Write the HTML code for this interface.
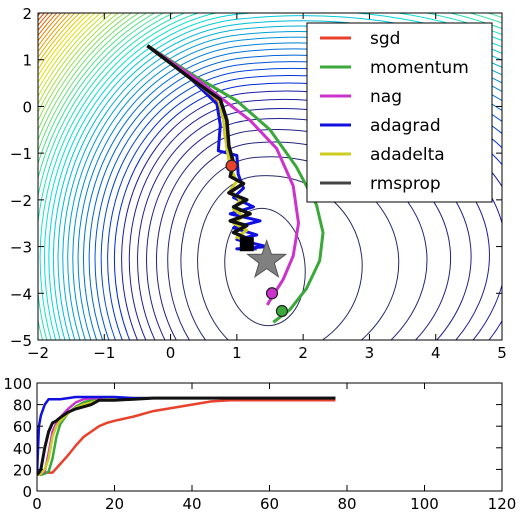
<!DOCTYPE html>
<html><head><meta charset="utf-8"><style>
html,body{margin:0;padding:0;background:#fff;overflow:hidden;width:520px;height:516px;}
svg{display:block;font-family:"DejaVu Sans","Liberation Sans",sans-serif;overflow:hidden;}
</style></head><body>
<svg id="fig" width="520" height="516" xmlns="http://www.w3.org/2000/svg">
<defs>
<clipPath id="topclip"><rect x="38" y="13" width="464" height="327"/></clipPath>
<clipPath id="botclip"><rect x="37" y="383" width="465" height="108"/></clipPath>
</defs>
<g id="contours" clip-path="url(#topclip)"></g>
<g id="paths" clip-path="url(#topclip)"></g>
<rect x="38" y="13" width="464" height="327" fill="none" stroke="#000" stroke-width="1"/>
<g id="topticks"></g>
<g id="legend"></g>
<g id="bot" clip-path="url(#botclip)"></g>
<rect x="37" y="383" width="465" height="108" fill="none" stroke="#000" stroke-width="1"/>
<g id="botticks"></g>
</svg>
<script>
const NS="http://www.w3.org/2000/svg";
// ---- data ----
const seriesNames=["sgd","momentum","nag","adagrad","adadelta","rmsprop"];
const seriesColors=["#e8412c","#3aa83a","#cc33cc","#1010e0","#cccc22","#444444"];
const topXTicks=[-2,-1,0,1,2,3,4,5];
const topYTicks=[2,1,0,-1,-2,-3,-4,-5];
const sgdPath=[[-0.35,1.3],[0.3,0.6],[0.7,0.15],[0.8,-0.2],[0.82,-0.6],[0.87,-0.95],[0.92,-1.25]];
const momentumPath=[[-0.35,1.3],[0.4,0.62],[1.0,0.12],[1.5,-0.5],[1.9,-1.3],[2.2,-2.1],[2.3,-2.7],[2.25,-3.3],[2.05,-3.9],[1.8,-4.35],[1.55,-4.62]];
const nagPath=[[-0.35,1.3],[0.4,0.58],[1.2,-0.3],[1.6,-0.9],[1.85,-1.7],[1.93,-2.5],[1.85,-3.2],[1.7,-3.7],[1.5,-4.15],[1.46,-4.25]];
const adagradPath=[[-0.35,1.3],[0.3,0.6],[0.7,0.05],[0.75,-0.4],[0.72,-0.95],[1.0,-1.05],[1.02,-1.45],[1.1,-1.75],[0.95,-1.95],[1.25,-2.15],[0.9,-2.3],[1.35,-2.45],[0.95,-2.6],[1.3,-2.75],[1.0,-2.85],[1.45,-3.0],[1.0,-3.05],[1.3,-3.05]];
const adadeltaPath=[[-0.35,1.3],[0.3,0.6],[0.72,0.15],[0.8,-0.3],[0.85,-0.9],[0.9,-1.3],[1.0,-1.6],[0.9,-1.8],[1.05,-2.0],[0.95,-2.2],[1.1,-2.35],[0.95,-2.5],[1.15,-2.65],[1.0,-2.8],[1.2,-2.9]];
const rmspropPath=[[-0.35,1.3],[0.3,0.6],[0.75,0.15],[0.85,-0.3],[0.88,-0.85],[0.95,-1.2],[0.9,-1.5],[1.1,-1.65],[0.88,-1.85],[1.15,-2.0],[0.95,-2.15],[1.2,-2.3],[0.9,-2.45],[1.15,-2.55],[0.95,-2.7],[1.2,-2.85],[1.15,-2.95]];
const endDots=[[0.92,-1.27],[1.68,-4.38],[1.53,-4.0]];
const minimum=[1.45,-3.3];
const botXTicks=[0,20,40,60,80,100,120];
const botYTicks=[0,20,40,60,80,100];
const epochs=[0,0.5,1,2,3,4,5,6,8,10,12,14,16,18,20,25,30,35,40,45,50,60,70,77];
const sgdAcc=[15,15,16,17,17,17,21,25,33,42,50,55,60,63,65,69,74,77,80,83,84,84,84,84];
const momentumAcc=[15,15,15,16,18,30,50,62,72,78,82,84,85,86,86,86,86,86,86,86,86,86,86,86];
const nagAcc=[15,15,16,18,35,55,63,68,76,82,85,86,86,86,86,86,86,86,86,86,86,86,86,86];
const adagradAcc=[15,60,70,80,85,85,85,85,86,87,87,87,87,87,87,86,86,86,86,86,86,86,86,86];
const adadeltaAcc=[15,15,16,20,30,50,60,65,72,77,80,82,84,85,85,86,86,86,86,86,86,86,86,86];
const rmspropAcc=[15,17,20,40,55,63,65,68,73,76,78,80,84,84,84,85,86,86,86,86,86,86,86,86];

// ---- scales ----
const tx=v=>38+(v+2)*464/7, ty=v=>13+(2-v)*327/7;
const bx=v=>37+v*465/120, by=v=>491-v*108/100;

function cmap(t){
  if(t<0.16){
    const u=t/0.16;
    return `rgb(${Math.round(45-20*u)},${Math.round(45-20*u)},${Math.round(85+90*u)})`;
  }
  const c=x=>Math.max(0,Math.min(1,x));
  const r=c(Math.min(4*t-1.5,-4*t+4.5)),g=c(Math.min(4*t-0.5,-4*t+3.5)),b=c(Math.min(4*t+0.5,-4*t+2.5));
  return `rgb(${Math.round(r*230)},${Math.round(g*225)},${Math.round(b*215)})`;
}
// contours (asymmetric: shallow to the right)
const cg=document.getElementById('contours');
const cx=265,cy=267;
for(let k=1;k<=70;k++){
  const r=Math.sqrt(1600+2900*Math.pow(k-1,0.9));
  const L=r, R=r*(1+0.9*(1-1/k)), T=r*(1.1+0.37/Math.sqrt(k)), B=T;
  const d=`M${cx+R},${cy} A${R},${B} 0 0 1 ${cx},${cy+B} A${L},${B} 0 0 1 ${cx-L},${cy} A${L},${T} 0 0 1 ${cx},${cy-T} A${R},${T} 0 0 1 ${cx+R},${cy} Z`;
  const e=document.createElementNS(NS,'path');
  e.setAttribute('d',d);
  e.setAttribute('transform',`rotate(-6 ${cx} ${cy})`);
  e.setAttribute('fill','none');
  e.setAttribute('stroke',cmap(Math.min(1,k/60)));
  e.setAttribute('stroke-width','1');
  
  
  cg.appendChild(e);
}
// paths
const pg=document.getElementById('paths');
const allPaths=[sgdPath,momentumPath,nagPath,adagradPath,adadeltaPath,rmspropPath];
const drawOrder=[1,2,0,3,4,5];
drawOrder.forEach(i=>{
  const p=document.createElementNS(NS,'polyline');
  p.setAttribute('points',allPaths[i].map(q=>tx(q[0])+','+ty(q[1])).join(' '));
  p.setAttribute('fill','none');p.setAttribute('stroke',i==5?'#111':seriesColors[i]);
  p.setAttribute('stroke-width',i==5?'3.5':'3');p.setAttribute('stroke-linejoin','round');
  
  
  pg.appendChild(p);
});
endDots.forEach((d,i)=>{
  const c=document.createElementNS(NS,'circle');
  c.setAttribute('cx',tx(d[0]));c.setAttribute('cy',ty(d[1]));c.setAttribute('r',5.5);
  c.setAttribute('fill',seriesColors[i]);c.setAttribute('stroke','#222');c.setAttribute('stroke-width','1.2');
  
  
  pg.appendChild(c);
});
{
  const sq=document.createElementNS(NS,'rect');
  const p=rmspropPath[rmspropPath.length-1];
  sq.setAttribute('x',tx(p[0])-7);sq.setAttribute('y',ty(p[1])-7);sq.setAttribute('width',14);sq.setAttribute('height',14);
  sq.setAttribute('fill','#000');
  
  
  pg.appendChild(sq);
  const sx=tx(minimum[0]),sy=ty(minimum[1]);let pts=[];
  for(let j=0;j<10;j++){const a=-Math.PI/2+j*Math.PI/5,r=j%2?8:20;pts.push((sx+r*Math.cos(a))+','+(sy+r*Math.sin(a)));}
  const st=document.createElementNS(NS,'polygon');
  st.setAttribute('points',pts.join(' '));st.setAttribute('fill','#808080');st.setAttribute('stroke','#555');
  
  
  pg.appendChild(st);
}
function txt(g,x,y,s,anchor,size,name){
  const t=document.createElementNS(NS,'text');
  t.setAttribute('x',x);t.setAttribute('y',y);t.setAttribute('text-anchor',anchor);t.setAttribute('font-size',size);
  t.textContent=s;
  
  
  g.appendChild(t);
}
function tick(g,x1,y1,x2,y2){
  const l=document.createElementNS(NS,'line');
  l.setAttribute('x1',x1);l.setAttribute('y1',y1);l.setAttribute('x2',x2);l.setAttribute('y2',y2);l.setAttribute('stroke','#000');
  
  
  g.appendChild(l);
}
const minus=v=>String(v).replace('-','\u2212');
const tt=document.getElementById('topticks');
topXTicks.forEach(v=>{tick(tt,tx(v),340,tx(v),334);tick(tt,tx(v),13,tx(v),19);txt(tt,tx(v),358,minus(v),'middle',15,'x-tick-label');});
topYTicks.forEach(v=>{tick(tt,38,ty(v),44,ty(v));tick(tt,502,ty(v),496,ty(v));txt(tt,32,ty(v)+6,minus(v),'end',15,'y-tick-label');});
// legend
const lg=document.getElementById('legend');
{const r=document.createElementNS(NS,'rect');r.setAttribute('x',307);r.setAttribute('y',23);r.setAttribute('width',185);r.setAttribute('height',179);r.setAttribute('fill','#fff');r.setAttribute('stroke','#000');


lg.appendChild(r);}
seriesNames.forEach((n,i)=>{
  const y=38+i*29;
  const l=document.createElementNS(NS,'line');
  l.setAttribute('x1',320);l.setAttribute('x2',351);l.setAttribute('y1',y);l.setAttribute('y2',y);l.setAttribute('stroke',seriesColors[i]);l.setAttribute('stroke-width',3);
  
  
  lg.appendChild(l);
  txt(lg,370,y+6,n,'start',17,'legend-entry');
});
// bottom chart
const bg=document.getElementById('bot');
const accs=[sgdAcc,momentumAcc,nagAcc,adagradAcc,adadeltaAcc,rmspropAcc];
[0,1,2,4,3,5].forEach(i=>{
  const p=document.createElementNS(NS,'polyline');
  p.setAttribute('points',epochs.map((e,j)=>bx(e)+','+by(accs[i][j])).join(' '));
  p.setAttribute('fill','none');p.setAttribute('stroke',i==5?'#111':seriesColors[i]);p.setAttribute('stroke-width',i==5?3:2.5);
  
  
  bg.appendChild(p);
});
const bt=document.getElementById('botticks');
botXTicks.forEach(v=>{tick(bt,bx(v),491,bx(v),485);tick(bt,bx(v),383,bx(v),389);txt(bt,bx(v),509,v,'middle',15,'x-tick-label');});
botYTicks.forEach(v=>{tick(bt,37,by(v),43,by(v));tick(bt,502,by(v),496,by(v));txt(bt,32,by(v)+6,v,'end',15,'y-tick-label');});
</script>
</body></html>
